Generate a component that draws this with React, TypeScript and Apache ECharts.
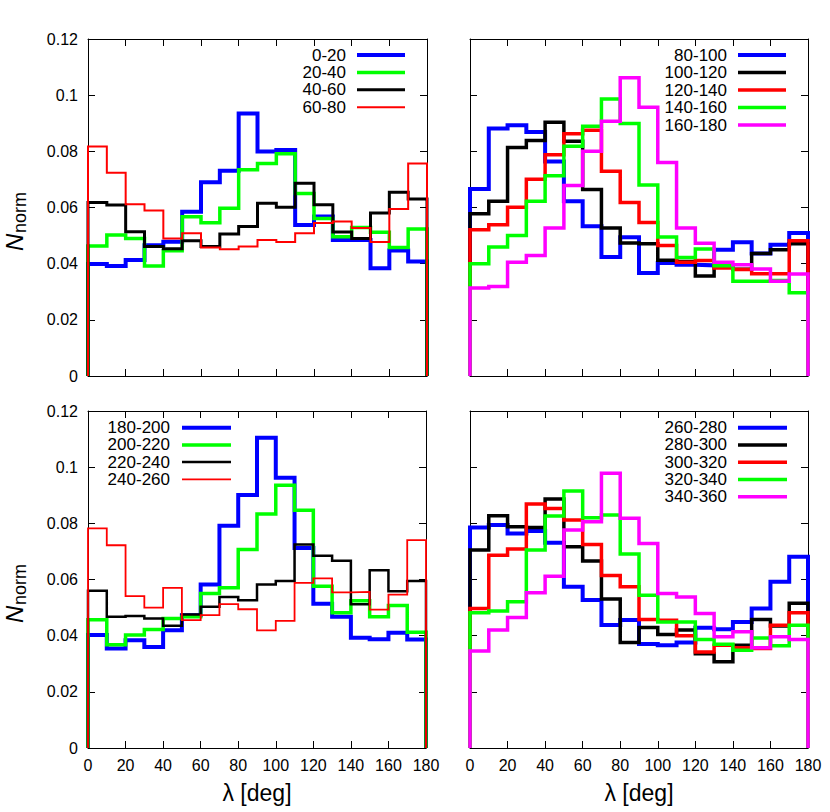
import { useEffect, useRef } from 'react';
import * as echarts from 'echarts';

const BIN_WIDTH = 10;
const xTickLabels = ['0', '20', '40', '60', '80', '100', '120', '140', '160', '180'];
const yTickLabels = ['0', '0.02', '0.04', '0.06', '0.08', '0.1', '0.12'];
const xAxisTitle = 'λ [deg]';

// Panel 1 (top left)
const p1Names = ['0-20', '20-40', '40-60', '60-80'];
const p1_0_20 = [0.0399, 0.0392, 0.0413, 0.0466, 0.0478, 0.0585, 0.069, 0.0731, 0.0935, 0.0799, 0.0805, 0.0538, 0.0568, 0.0484, 0.0484, 0.0384, 0.0447, 0.0408];
const p1_20_40 = [0.0463, 0.0502, 0.049, 0.0392, 0.0446, 0.0567, 0.0546, 0.0597, 0.0734, 0.0757, 0.0791, 0.065, 0.0561, 0.0496, 0.0529, 0.0512, 0.0458, 0.0523];
const p1_40_60 = [0.0618, 0.0609, 0.0514, 0.0461, 0.0453, 0.0482, 0.0461, 0.0506, 0.0532, 0.0615, 0.0601, 0.0686, 0.061, 0.0513, 0.049, 0.058, 0.0654, 0.063];
const p1_60_80 = [0.0817, 0.0724, 0.0612, 0.0589, 0.049, 0.0508, 0.0458, 0.0451, 0.0461, 0.0484, 0.0477, 0.0508, 0.0545, 0.055, 0.0527, 0.0477, 0.0595, 0.0757];

// Panel 2 (top right)
const p2Names = ['80-100', '100-120', '120-140', '140-160', '160-180'];
const p2_80_100 = [0.0666, 0.0881, 0.0893, 0.0869, 0.0764, 0.0622, 0.0533, 0.0424, 0.0494, 0.0367, 0.0402, 0.0396, 0.0394, 0.045, 0.0476, 0.0436, 0.0467, 0.0509];
const p2_100_120 = [0.0578, 0.0622, 0.0814, 0.0839, 0.0904, 0.0836, 0.0664, 0.0527, 0.0474, 0.0471, 0.0412, 0.0408, 0.0356, 0.039, 0.038, 0.0436, 0.045, 0.0471];
const p2_120_140 = [0.0521, 0.0539, 0.0601, 0.0701, 0.0788, 0.0863, 0.0875, 0.0729, 0.0618, 0.0547, 0.0465, 0.0405, 0.0411, 0.0385, 0.0379, 0.0364, 0.0364, 0.0482];
const p2_140_160 = [0.04, 0.0459, 0.05, 0.0622, 0.0713, 0.0818, 0.0889, 0.0986, 0.0899, 0.068, 0.0495, 0.0422, 0.0452, 0.0393, 0.0337, 0.0337, 0.034, 0.0296];
const p2_160_180 = [0.0313, 0.0319, 0.0405, 0.0429, 0.0527, 0.0678, 0.08, 0.0907, 0.1062, 0.0957, 0.076, 0.0527, 0.0473, 0.0405, 0.0396, 0.0381, 0.0337, 0.0363];

// Panel 3 (bottom left)
const p3Names = ['180-200', '200-220', '220-240', '240-260'];
const p3_180_200 = [0.0402, 0.0354, 0.0384, 0.036, 0.0419, 0.0473, 0.0582, 0.0791, 0.0901, 0.1105, 0.0962, 0.0712, 0.0514, 0.0467, 0.0393, 0.0387, 0.041, 0.0386];
const p3_200_220 = [0.0457, 0.0368, 0.0402, 0.0422, 0.0461, 0.0467, 0.055, 0.0571, 0.0707, 0.0833, 0.0936, 0.0847, 0.0576, 0.0482, 0.0524, 0.0467, 0.0507, 0.0412];
const p3_220_240 = [0.056, 0.0467, 0.047, 0.0461, 0.0435, 0.0475, 0.0503, 0.0538, 0.0526, 0.0582, 0.0595, 0.0725, 0.0685, 0.0667, 0.0512, 0.0633, 0.0558, 0.0595];
const p3_240_260 = [0.0782, 0.0722, 0.0541, 0.05, 0.057, 0.0455, 0.0473, 0.0512, 0.0494, 0.0419, 0.0453, 0.0588, 0.0604, 0.0554, 0.0556, 0.0493, 0.0546, 0.074];

// Panel 4 (bottom right)
const p4Names = ['260-280', '280-300', '300-320', '320-340', '340-360'];
const p4_260_280 = [0.0785, 0.0794, 0.0764, 0.0773, 0.0731, 0.0574, 0.0527, 0.0438, 0.0456, 0.037, 0.0366, 0.0376, 0.0428, 0.0423, 0.0449, 0.0497, 0.0592, 0.0681];
const p4_280_300 = [0.0705, 0.0827, 0.0788, 0.0785, 0.0887, 0.0717, 0.0666, 0.0531, 0.0376, 0.0429, 0.0404, 0.042, 0.0336, 0.0307, 0.0366, 0.0458, 0.0434, 0.0515];
const p4_300_320 = [0.0497, 0.0686, 0.0709, 0.0869, 0.0853, 0.0812, 0.0725, 0.0614, 0.0574, 0.0458, 0.0455, 0.04, 0.0342, 0.0366, 0.0357, 0.0354, 0.0437, 0.0482];
const p4_320_340 = [0.0482, 0.0488, 0.0521, 0.0705, 0.0826, 0.0915, 0.082, 0.083, 0.0691, 0.0544, 0.0449, 0.0449, 0.0386, 0.0369, 0.0348, 0.0392, 0.0364, 0.0437];
const p4_340_360 = [0.0345, 0.042, 0.0465, 0.0553, 0.0612, 0.0776, 0.0806, 0.0978, 0.0818, 0.0728, 0.055, 0.0538, 0.0479, 0.0396, 0.0414, 0.0357, 0.0396, 0.0386];

const FONT = '"Liberation Sans", Arial, Helvetica, sans-serif';
const BLUE = '#0000ff';
const GREEN = '#00ff00';
const BLACK = '#000000';
const RED = '#ff0000';
const MAGENTA = '#ff00ff';

const panels = [
  {
    grid: { left: 88, top: 39, width: 339, height: 337 },
    names: p1Names,
    values: [p1_0_20, p1_20_40, p1_40_60, p1_60_80],
    colors: [BLUE, GREEN, BLACK, RED],
    widths: [4, 3.5, 3, 2],
    legend: { textRight: 346, x1: 357, x2: 405, y0: 55, dy: 17.4 },
    showX: false,
    showY: true,
  },
  {
    grid: { left: 470, top: 39, width: 338, height: 337 },
    names: p2Names,
    values: [p2_80_100, p2_100_120, p2_120_140, p2_140_160, p2_160_180],
    colors: [BLUE, BLACK, RED, GREEN, MAGENTA],
    widths: [4, 3.5, 3.5, 3.5, 3.5],
    legend: { textRight: 727, x1: 738, x2: 786, y0: 55, dy: 17.5 },
    showX: false,
    showY: false,
  },
  {
    grid: { left: 88, top: 411, width: 338, height: 337 },
    names: p3Names,
    values: [p3_180_200, p3_200_220, p3_220_240, p3_240_260],
    colors: [BLUE, GREEN, BLACK, RED],
    widths: [4, 3.5, 2.5, 1.8],
    legend: { textRight: 170, x1: 182, x2: 231, y0: 427.7, dy: 17.2 },
    showX: true,
    showY: true,
  },
  {
    grid: { left: 470, top: 411, width: 338, height: 337 },
    names: p4Names,
    values: [p4_260_280, p4_280_300, p4_300_320, p4_320_340, p4_340_360],
    colors: [BLUE, BLACK, RED, GREEN, MAGENTA],
    widths: [4, 3.5, 3.5, 3.5, 3.5],
    legend: { textRight: 727, x1: 738, x2: 787, y0: 427.7, dy: 17.25 },
    showX: true,
    showY: false,
  },
];

function stepPoints(values: number[]): number[][] {
  const pts: number[][] = [[0, 0]];
  values.forEach((v, k) => {
    pts.push([k * BIN_WIDTH, v]);
    pts.push([(k + 1) * BIN_WIDTH, v]);
  });
  pts.push([values.length * BIN_WIDTH, 0]);
  return pts;
}

function buildOption() {
  const grid: any[] = [];
  const xAxis: any[] = [];
  const yAxis: any[] = [];
  const series: any[] = [];
  const graphic: any[] = [];
  const xMax = (xTickLabels.length - 1) * 20;
  const yMax = (yTickLabels.length - 1) * 0.02;

  panels.forEach((p, i) => {
    grid.push({ ...p.grid, containLabel: false, outerBoundsMode: 'none' });
    const axisLine = { show: true, onZero: false, lineStyle: { color: '#000', width: 1 } };
    const axisTick = { show: true, inside: true, length: 7, lineStyle: { color: '#000', width: 1 } };
    xAxis.push({
      type: 'value', gridIndex: i, position: 'bottom', min: 0, max: xMax, interval: 20,
      axisLine, axisTick, splitLine: { show: false },
      axisLabel: {
        show: p.showX, color: '#000', fontSize: 16, fontFamily: FONT, margin: 9,
        formatter: (v: number) => xTickLabels[Math.round(v / 20)] ?? '',
      },
      name: p.showX ? xAxisTitle : '',
      nameLocation: 'middle', nameGap: 33,
      nameTextStyle: { color: '#000', fontSize: 23, fontFamily: FONT },
    });
    xAxis.push({
      type: 'value', gridIndex: i, position: 'top', min: 0, max: xMax, interval: 20,
      axisLine, axisTick, splitLine: { show: false }, axisLabel: { show: false },
    });
    yAxis.push({
      type: 'value', gridIndex: i, position: 'left', min: 0, max: yMax, interval: 0.02,
      axisLine, axisTick, splitLine: { show: false },
      axisLabel: {
        show: p.showY, color: '#000', fontSize: 16, fontFamily: FONT, margin: 10,
        formatter: (v: number) => yTickLabels[Math.round(v / 0.02)] ?? '',
      },
    });
    yAxis.push({
      type: 'value', gridIndex: i, position: 'right', min: 0, max: yMax, interval: 0.02,
      axisLine, axisTick, splitLine: { show: false }, axisLabel: { show: false },
    });

    p.values.forEach((vals, k) => {
      series.push({
        type: 'line',
        name: p.names[k],
        xAxisIndex: i * 2,
        yAxisIndex: i * 2,
        data: stepPoints(vals),
        showSymbol: false,
        symbol: 'none',
        clip: false,
        lineStyle: { color: p.colors[k], width: p.widths[k], join: 'miter', cap: 'butt' },
        emphasis: { disabled: true },
      });
      const y = p.legend.y0 + k * p.legend.dy;
      graphic.push({
        type: 'text', x: p.legend.textRight, y,
        style: { text: p.names[k], fill: '#000', font: `17px ${FONT}`, align: 'right', verticalAlign: 'middle' },
      });
      graphic.push({
        type: 'line',
        shape: { x1: p.legend.x1, y1: y, x2: p.legend.x2, y2: y },
        style: { stroke: p.colors[k], lineWidth: p.widths[k] },
      });
    });

    if (p.showY) {
      const base = p.grid.top + 212;
      graphic.push({
        type: 'text', x: 14, y: base, rotation: Math.PI / 2,
        style: { text: 'N', fill: '#000', font: `italic 24px ${FONT}`, align: 'left', verticalAlign: 'middle' },
      });
      graphic.push({
        type: 'text', x: 19.5, y: base - 18, rotation: Math.PI / 2,
        style: { text: 'norm', fill: '#000', font: `18px ${FONT}`, align: 'left', verticalAlign: 'middle' },
      });
    }
  });

  return {
    animation: false,
    backgroundColor: '#ffffff',
    grid, xAxis, yAxis, series, graphic,
  };
}

export default function App() {
  const ref = useRef<HTMLDivElement>(null);
  useEffect(() => {
    if (!ref.current) return;
    const chart = echarts.init(ref.current, undefined, { renderer: 'svg' });
    chart.setOption(buildOption() as any);
    return () => chart.dispose();
  }, []);
  return (
    <div
      ref={ref}
      style={{ position: 'fixed', left: 0, top: 0, width: 830, height: 812, background: '#fff' }}
    />
  );
}
